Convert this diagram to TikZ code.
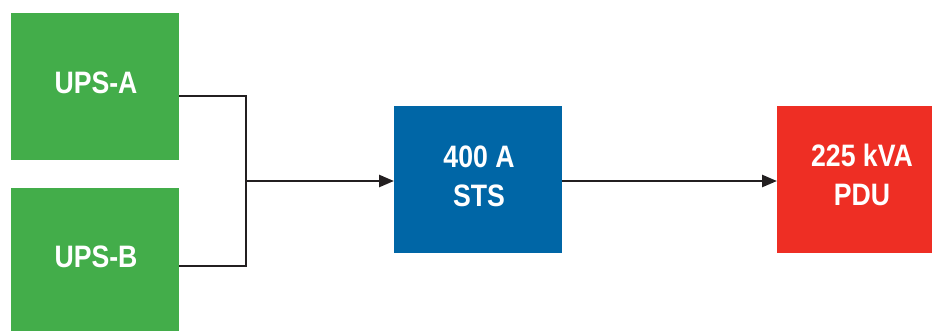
\documentclass[tikz,border=0pt]{standalone}
\usepackage{fontspec}
\setmainfont{Liberation Sans}[FakeStretch=0.86]
\usetikzlibrary{arrows.meta}
\definecolor{upsgreen}{HTML}{43AD4A}
\definecolor{stsblue}{HTML}{0066A6}
\definecolor{pdured}{HTML}{EE2E24}
\definecolor{wire}{HTML}{231F20}
\tikzset{
  box/.style={draw=none, rectangle, inner sep=0pt, outer sep=0pt, anchor=north west},
  lbl/.style={text=white, font=\fontsize{31}{39}\selectfont\bfseries, align=center, inner sep=0pt},
  wireline/.style={draw=wire, line width=2.5pt},
  arr/.style={wireline, -{Triangle[length=15pt,width=12pt]}}
}
\begin{document}
\begin{tikzpicture}[x=1pt,y=-1pt]
\useasboundingbox (0,0) rectangle (932,330);
\node[box, fill=upsgreen, minimum width=168pt, minimum height=147pt] (upsa) at (11,13) {};
\node[box, fill=upsgreen, minimum width=168pt, minimum height=150pt] (upsb) at (11,188) {};
\node[box, fill=stsblue, minimum width=168pt, minimum height=147pt] (sts) at (394,106) {};
\node[box, fill=pdured, minimum width=160pt, minimum height=147pt] (pdu) at (777,106) {};
\node[lbl] (ta) at (96,83) {UPS-A};
\node[lbl] (tb) at (96,257) {UPS-B};
\node[lbl] (ts) at (479,176.5) {400 A\\STS};
\node[lbl] (tp) at (862,175) {225 kVA\\PDU};
\coordinate (ja) at (179,96);
\coordinate (jb) at (179,266);
\coordinate (ka) at (246,96);
\coordinate (kb) at (246,266);
\coordinate (j) at (246,181);
\coordinate (stsin) at (394,181);
\coordinate (stsout) at (562,181);
\coordinate (pduin) at (777,181);
\draw[wireline] (ja) -- (ka) -- (kb) -- (jb);
\draw[arr] (j) -- (stsin);
\draw[arr] (stsout) -- (pduin);
\end{tikzpicture}
\end{document}
